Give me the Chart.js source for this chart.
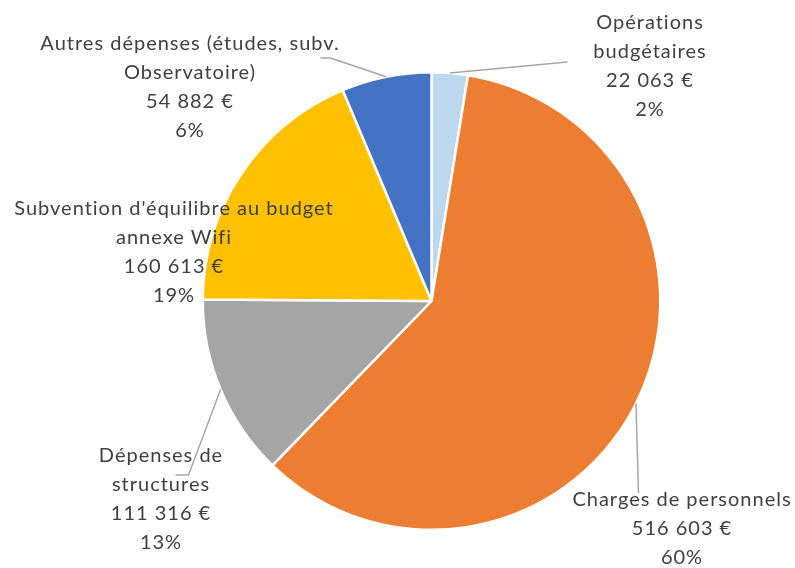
<!DOCTYPE html>
<html>
<head>
<meta charset="utf-8">
<script src="https://cdn.jsdelivr.net/npm/chart.js@4.4.1/dist/chart.umd.min.js"></script>
<style>
  html, body { margin: 0; padding: 0; background: #fff; }
  #wrap { width: 795px; height: 568px; position: relative; }
</style>
</head>
<body>
<div id="wrap"><canvas id="pieChart" width="795" height="568"></canvas></div>
<script>
const categories = [
    ['Opérations', 'budgétaires'],
    ['Charges de personnels'],
    ['Dépenses de', 'structures'],
    ["Subvention d'équilibre au budget", 'annexe Wifi'],
    ['Autres dépenses (études, subv.', 'Observatoire)']
];
const amounts = [22063, 516603, 111316, 160613, 54882];
const pctLabels = ['2%', '60%', '13%', '19%', '6%'];
const sliceColors = ['#BDD7EE', '#ED7D31', '#A5A5A5', '#FFC000', '#4472C4'];

// label placement, offsets from pie centre (px)
const labelOffsets = [
    { dx: 218, dy: -278, leader: [[136, -239]] },
    { dx: 250, dy: 199, leader: [[207, 192]] },
    { dx: -271, dy: 155, leader: [[-243, 174], [-256, 174]] },
    { dx: -258, dy: -92, leader: null },
    { dx: -242, dy: -257, leader: [[-101, -243], [-111, -243]] }
];

const fmtEuro = v => v.toString().replace(/\B(?=(\d{3})+(?!\d))/g, ' ') + ' €';

const labelPlugin = {
    id: 'outLabels',
    afterDatasetsDraw(chart) {
        const ctx = chart.ctx;
        const arcs = chart.getDatasetMeta(0).data;
        ctx.save();
        arcs.forEach((arc, i) => {
            const cx = arc.x, cy = arc.y;
            const mid = (arc.startAngle + arc.endAngle) / 2;
            const lo = labelOffsets[i];
            if (lo.leader) {
                ctx.beginPath();
                ctx.strokeStyle = '#A6A6A6';
                ctx.lineWidth = 1.5;
                ctx.moveTo(cx + Math.cos(mid) * arc.outerRadius, cy + Math.sin(mid) * arc.outerRadius);
                lo.leader.forEach(p => ctx.lineTo(cx + p[0], cy + p[1]));
                ctx.stroke();
            }
            const lines = categories[i].concat([fmtEuro(amounts[i]), pctLabels[i]]);
            ctx.fillStyle = '#404040';
            ctx.font = '20px Lato';
            ctx.letterSpacing = '1px';
            ctx.textAlign = 'center';
            ctx.textBaseline = 'middle';
            lines.forEach((t, k) => {
                ctx.fillText(t, cx + lo.dx + 0.5, cy + lo.dy + k * 29);
            });
        });
        ctx.restore();
    }
};

new Chart(document.getElementById('pieChart'), {
    type: 'pie',
    data: {
        labels: categories.map(c => c.join(' ')),
        datasets: [{
            data: amounts,
            backgroundColor: sliceColors,
            borderColor: '#ffffff',
            borderWidth: 2.5
        }]
    },
    options: {
        responsive: false,
        animation: false,
        layout: { padding: { top: 71, bottom: 37, left: 201, right: 133 } },
        plugins: { legend: { display: false }, tooltip: { enabled: false } }
    },
    plugins: [labelPlugin]
});
</script>
</body>
</html>
